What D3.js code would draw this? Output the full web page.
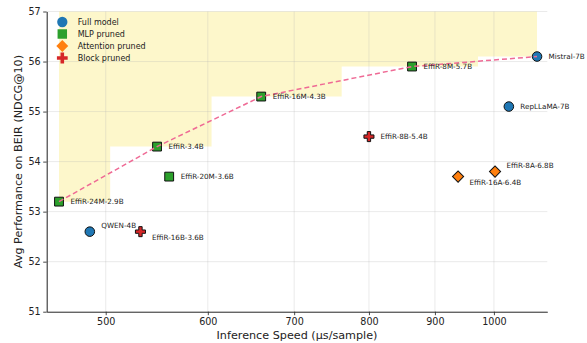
<!DOCTYPE html>
<meta charset="utf-8">
<title>BEIR vs speed</title>
<style>
  body { margin: 0; background: #fff; }
  text { font-family: "DejaVu Sans", sans-serif; fill: #222; }
</style>
<div id="viz"></div>
<script src="https://cdn.jsdelivr.net/npm/d3@7/dist/d3.min.js"></script>
<script>

// data
var names  = ["Mistral-7B", "RepLLaMA-7B", "QWEN-4B",
              "EffiR-24M-2.9B", "EffiR-3.4B", "EffiR-20M-3.6B", "EffiR-16M-4.3B", "EffiR-8M-5.7B",
              "EffiR-16A-6.4B", "EffiR-8A-6.8B",
              "EffiR-16B-3.6B", "EffiR-8B-5.4B"];
var speeds = [1080, 1027, 486, 460, 548, 560, 660, 864, 938, 1002, 532, 800];
var scores = [56.1, 55.1, 52.6, 53.2, 54.3, 53.7, 55.3, 55.9, 53.7, 53.8, 52.6, 54.5];
var kinds  = ["full", "full", "full", "mlp", "mlp", "mlp", "mlp", "mlp", "attn", "attn", "block", "block"];

var kindNames = ["full", "mlp", "attn", "block"];
var kindLabels = ["Full model", "MLP pruned", "Attention pruned", "Block pruned"];
var xTicks = [500, 600, 700, 800, 900, 1000];
var yTicks = [51, 52, 53, 54, 55, 56, 57];

// label nudges (px) for the annotations that are not level with their marker
var labelDy = { "QWEN-4B": -6, "EffiR-16B-3.6B": 6, "EffiR-16A-6.4B": 5.5, "EffiR-8A-6.8B": -6 };

var colors = { full: "#1f77b4", mlp: "#2ca02c", attn: "#ff7f0e", block: "#d62728" };

var width = 587, height = 343;
// plot box (window.top is read-only, so no plain "top")
var pl = 46.7, pr = 547.3, pt = 11.5, pb = 311.7;

var svg = d3.select("#viz").append("svg")
  .attr("width", width)
  .attr("height", height);

var x = d3.scaleLog().domain([450, 1100]).range([pl, pr]);
var y = d3.scaleLinear().domain([51, 57]).range([pb, pt]);

var pts = names.map(function(n, i) {
  return { name: n, speed: speeds[i], score: scores[i], kind: kinds[i] };
});

// pareto front: nothing faster with a higher score
var front = pts.filter(function(p) {
  return !pts.some(function(q) { return q !== p && q.speed <= p.speed && q.score > p.score; });
}).sort(function(a, b) { return a.speed - b.speed; });

// step-mid fill above the front (like fill_between step='mid')
var steps = [];
front.forEach(function(p, i) {
  var x0 = i == 0 ? p.speed : (front[i - 1].speed + p.speed) / 2;
  steps.push([x0, p.score]);
});
steps.push([front[front.length - 1].speed, front[front.length - 1].score]);

svg.append("path")
  .datum(steps)
  .attr("d", d3.area()
    .x(function(d) { return x(d[0]); })
    .y0(y(57))
    .y1(function(d) { return y(d[1]); })
    .curve(d3.curveStepAfter))
  .attr("fill", "#f7dc1e")
  .attr("fill-opacity", 0.23);

// grid
svg.append("g").selectAll("line").data(xTicks).join("line")
  .attr("x1", function(d) { return x(d); }).attr("x2", function(d) { return x(d); })
  .attr("y1", pt).attr("y2", pb)
  .attr("stroke", "#b0b0b0").attr("stroke-opacity", 0.3).attr("stroke-width", 0.9);
svg.append("g").selectAll("line").data(yTicks).join("line")
  .attr("x1", pl).attr("x2", pr)
  .attr("y1", function(d) { return y(d); }).attr("y2", function(d) { return y(d); })
  .attr("stroke", "#b0b0b0").attr("stroke-opacity", 0.3).attr("stroke-width", 0.9);

// axes
var xAxis = svg.append("g")
  .attr("transform", "translate(0," + pb + ")")
  .call(d3.axisBottom(x).tickValues(xTicks).tickFormat(d3.format("d")).tickSize(3.5).tickSizeOuter(0));
var yAxis = svg.append("g")
  .attr("transform", "translate(" + pl + ",0)")
  .call(d3.axisLeft(y).tickValues(yTicks).tickFormat(d3.format("d")).tickSize(3.5).tickSizeOuter(0));

[xAxis, yAxis].forEach(function(ax) {
  ax.select(".domain").attr("stroke", "#333").attr("stroke-width", 1.1);
  ax.selectAll(".tick line").attr("stroke", "#333").attr("stroke-width", 0.9);
  ax.selectAll(".tick text").attr("font-size", "9.6px")
    .attr("font-family", "DejaVu Sans").attr("fill", "#222");
});
xAxis.selectAll(".tick text").attr("dy", "0.71em").attr("y", 6);
yAxis.selectAll(".tick text").attr("x", -6);

svg.append("text")
  .attr("x", (pl + pr) / 2).attr("y", 338.5)
  .attr("text-anchor", "middle").attr("font-size", "11.2px")
  .text("Inference Speed (\u00b5s/sample)");
svg.append("text")
  .attr("transform", "translate(22," + (pt + pb) / 2 + ") rotate(-90)")
  .attr("text-anchor", "middle").attr("font-size", "11.2px")
  .text("Avg Performance on BEIR (NDCG@10)");

// marker shapes
function shape(kind, s) {
  if (kind == "full") return d3.symbol(d3.symbolCircle, 72 * s)();
  if (kind == "mlp") return d3.symbol(d3.symbolSquare, 78 * s)();
  if (kind == "attn") return d3.symbol(d3.symbolSquare, 62 * s)();
  return d3.symbol(d3.symbolCross, 56 * s)();
}
function rot(kind) { return kind == "attn" ? " rotate(45)" : ""; }

svg.append("g").selectAll("path").data(pts).join("path")
  .attr("transform", function(d) { return "translate(" + x(d.speed) + "," + y(d.score) + ")" + rot(d.kind); })
  .attr("d", function(d) { return shape(d.kind, 1); })
  .attr("fill", function(d) { return colors[d.kind]; })
  .attr("stroke", "#111")
  .attr("stroke-width", 1);

// pareto line over the markers
svg.append("path")
  .datum(front)
  .attr("d", d3.line()
    .x(function(d) { return x(d.speed); })
    .y(function(d) { return y(d.score); }))
  .attr("fill", "none")
  .attr("stroke", "#ef6a95")
  .attr("stroke-width", 1.5)
  .attr("stroke-dasharray", "5,3");

// annotations
svg.append("g").selectAll("text").data(pts).join("text")
  .attr("x", function(d) { return x(d.speed) + 11.5; })
  .attr("y", function(d) { return y(d.score) + (labelDy[d.name] || 0); })
  .attr("dy", "0.35em")
  .attr("font-size", "7.2px")
  .text(function(d) { return d.name; });

// legend
var leg = svg.append("g").selectAll("g").data(kindNames).join("g")
  .attr("transform", function(d, i) { return "translate(62.3," + (22 + i * 12) + ")"; });
leg.append("path")
  .attr("transform", function(d) { return rot(d); })
  .attr("d", function(d) { return shape(d, 1.15); })
  .attr("fill", function(d) { return colors[d]; });
leg.append("text")
  .attr("x", 15.4).attr("dy", "0.35em")
  .attr("font-size", "8px")
  .text(function(d, i) { return kindLabels[i]; });

</script>
